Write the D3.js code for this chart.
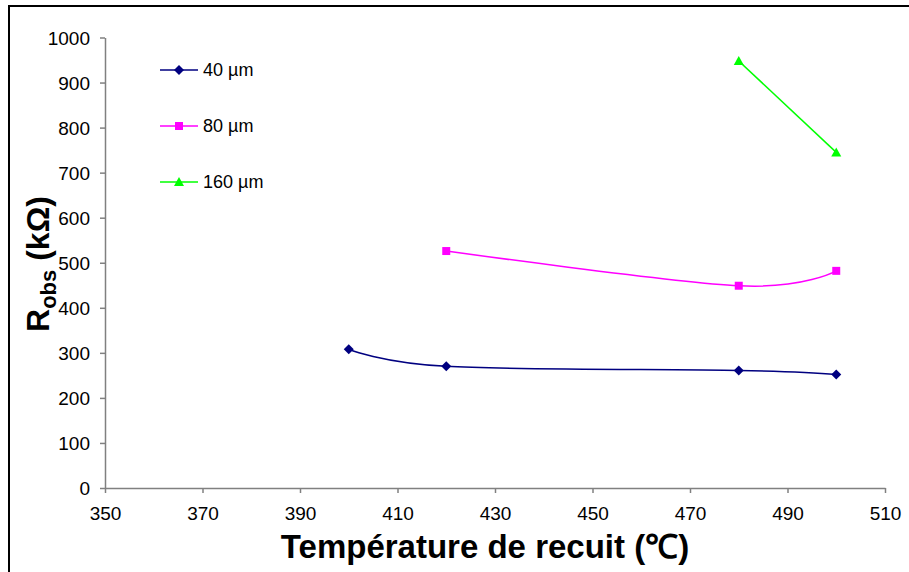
<!DOCTYPE html>
<html><head><meta charset="utf-8">
<script src="https://cdn.jsdelivr.net/npm/d3@7"></script>
<style>body{margin:0;background:#fff}svg{display:block}text{font-family:"Liberation Sans",Arial,sans-serif}</style>
</head><body>
<script>
const xTicks = [350,370,390,410,430,450,470,490,510];
const yTicks = [0,100,200,300,400,500,600,700,800,900,1000];
const seriesNames = ["40 µm","80 µm","160 µm"];
const seriesColors = ["#000080","#FF00FF","#00FF00"];
const temps40 = [400,420,480,500];
const vals40 = [308,270,261,252];
const temps80 = [420,480,500];
const vals80 = [526,449,482];
const temps160 = [480,500];
const vals160 = [948,745];

const W=909,H=572;
const svg=d3.select("body").append("svg").attr("width",W).attr("height",H);
svg.append("rect").attr("width",W).attr("height",H).attr("fill","#fff");
svg.append("path").attr("d","M9,600 L9,6 L920,6").attr("fill","none").attr("stroke","#000").attr("stroke-width",2);

const x=d3.scaleLinear().domain([350,510]).range([105,885]);
const y=d3.scaleLinear().domain([0,1000]).range([488,37.5]);

const xa=svg.append("g").attr("transform","translate(0,488)")
  .call(d3.axisBottom(x).tickValues(xTicks).tickSize(5).tickSizeOuter(0).tickPadding(14).tickFormat(d3.format("d")));
const ya=svg.append("g").attr("transform","translate(105,0)")
  .call(d3.axisLeft(y).tickValues(yTicks).tickSize(5).tickSizeOuter(0).tickPadding(10).tickFormat(d3.format("d")));
[xa,ya].forEach(a=>{
  a.selectAll("path,line").attr("stroke","#808080").attr("stroke-width",1.5);
  a.selectAll("text").attr("fill","#000").style("font-size","19px").style("font-family","'Liberation Sans',Arial,sans-serif");
});
ya.selectAll("text").attr("dy","0.36em");

// marker shapes
function marker(i){
  if(i===0) return "M0,-5L5,0L0,5L-5,0Z";
  if(i===1) return "M-4,-4H4V4H-4Z";
  return "M0,-5L5,4L-5,4Z";
}

const series=[[temps40,vals40],[temps80,vals80],[temps160,vals160]];
const line=d3.line().x(d=>x(d[0])).y(d=>y(d[1])).curve(d3.curveCardinal.tension(0));
series.forEach(([t,v],i)=>{
  const pts=t.map((tt,j)=>[tt,v[j]]);
  svg.append("path").datum(pts).attr("d",line).attr("fill","none").attr("stroke",seriesColors[i]).attr("stroke-width",1.5);
  svg.selectAll(null).data(pts).enter().append("path")
    .attr("d",marker(i))
    .attr("transform",d=>`translate(${x(d[0])},${y(d[1])})`)
    .attr("fill",seriesColors[i]);
});

// legend
const legY=[70,126,182];
seriesNames.forEach((n,i)=>{
  const g=svg.append("g").attr("transform",`translate(0,${legY[i]})`);
  g.append("line").attr("x1",160).attr("x2",198).attr("stroke",seriesColors[i]).attr("stroke-width",1.5);
  g.append("path").attr("d",marker(i)).attr("transform","translate(179,0)").attr("fill",seriesColors[i]);
  g.append("text").attr("x",203).attr("y",6).style("font-size","18px").text(n);
});

// axis titles
svg.append("text").attr("x",485).attr("y",558).attr("text-anchor","middle")
  .style("font-size","33px").style("font-weight","bold").text("Température de recuit (℃)");
const yt=svg.append("text").attr("transform","translate(49,264) rotate(-90)").attr("text-anchor","middle")
  .style("font-size","32px").style("font-weight","bold");
yt.append("tspan").text("R");
yt.append("tspan").attr("dy",7).style("font-size","22px").text("obs");
yt.append("tspan").attr("dy",-7).text(" (kΩ)");
</script>
</body></html>
